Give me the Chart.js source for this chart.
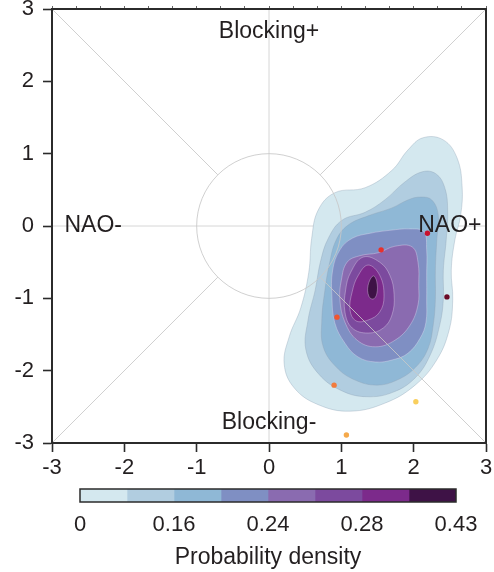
<!DOCTYPE html>
<html>
<head>
<meta charset="utf-8">
<script src="https://cdn.jsdelivr.net/npm/chart.js@4"></script>
<style>
  html, body { margin: 0; padding: 0; background: #ffffff; }
  #wrap { position: relative; width: 494px; height: 572px; }
  #main { position: absolute; left: 0; top: 0; }
  #bar { position: absolute; left: 0; top: 480px; }
</style>
</head>
<body>
<div id="wrap">
  <canvas id="main" width="494" height="480"></canvas>
  <canvas id="bar" width="494" height="92"></canvas>
</div>
<script>
// ---------- data ----------
const axisTicks = [-3, -2, -1, 0, 1, 2, 3];

// density contour outlines (x, y), from outermost (level 1) to innermost (level 8)
const contour1 = [[2.13,1.22],[2.41,1.19],[2.60,0.94],[2.67,0.54],[2.65,0.15],[2.57,-0.19],[2.52,-0.61],[2.54,-1.02],[2.49,-1.44],[2.32,-1.85],[2.02,-2.20],[1.60,-2.45],[1.12,-2.56],[0.68,-2.47],[0.35,-2.24],[0.21,-1.91],[0.28,-1.53],[0.44,-1.13],[0.55,-0.64],[0.59,-0.17],[0.68,0.22],[0.91,0.46],[1.33,0.53],[1.70,0.77],[1.92,1.05]];
const contour2 = [[2.12,0.75],[2.31,0.72],[2.43,0.53],[2.47,0.22],[2.45,-0.19],[2.41,-0.61],[2.41,-1.02],[2.36,-1.37],[2.23,-1.78],[2.02,-2.10],[1.71,-2.30],[1.35,-2.36],[1.01,-2.28],[0.69,-2.05],[0.51,-1.71],[0.54,-1.30],[0.64,-0.88],[0.71,-0.50],[0.82,-0.17],[1.01,0.08],[1.33,0.19],[1.60,0.36],[1.88,0.61]];
const contour3 = [[2.09,0.40],[2.25,0.36],[2.34,0.15],[2.32,-0.19],[2.30,-0.61],[2.30,-1.02],[2.27,-1.37],[2.20,-1.69],[2.03,-1.95],[1.77,-2.13],[1.49,-2.20],[1.19,-2.13],[0.93,-1.95],[0.75,-1.67],[0.73,-1.30],[0.77,-0.91],[0.84,-0.50],[0.93,-0.19],[1.09,0.01],[1.37,0.14],[1.70,0.25],[1.92,0.36]];
const contour4 = [[1.95,-0.04],[2.14,-0.08],[2.18,-0.33],[2.18,-0.68],[2.18,-1.02],[2.17,-1.33],[2.09,-1.55],[1.92,-1.76],[1.71,-1.85],[1.47,-1.88],[1.23,-1.81],[1.05,-1.62],[0.91,-1.34],[0.87,-0.98],[0.88,-0.61],[0.98,-0.33],[1.15,-0.17],[1.40,-0.10],[1.67,-0.06]];
const contour5 = [[1.74,-0.28],[1.98,-0.29],[2.06,-0.50],[2.07,-0.82],[2.06,-1.09],[1.95,-1.37],[1.74,-1.58],[1.47,-1.67],[1.22,-1.58],[1.05,-1.33],[0.98,-1.02],[1.00,-0.75],[1.08,-0.50],[1.26,-0.41],[1.51,-0.37]];
const contour6 = [[1.30,-0.43],[1.53,-0.50],[1.67,-0.68],[1.73,-0.95],[1.70,-1.23],[1.58,-1.41],[1.37,-1.48],[1.15,-1.41],[1.05,-1.19],[1.06,-0.88],[1.13,-0.64]];
const contour7 = [[1.37,-0.54],[1.53,-0.68],[1.59,-0.97],[1.53,-1.19],[1.37,-1.30],[1.20,-1.31],[1.12,-1.16],[1.15,-0.91],[1.23,-0.69]];
const contour8 = [[1.44,-0.69],[1.49,-0.77],[1.49,-0.94],[1.44,-1.01],[1.38,-0.97],[1.37,-0.82]];
const contours = [contour1, contour2, contour3, contour4, contour5, contour6, contour7, contour8];

// colour scale (one colour per density band)
const bandColors = ['#d4e8ef','#b1cde0','#8fb8d6','#7f8fc3','#8a6bb0','#7c4a9e','#7c2a8b','#3e1246'];
const colorbarTickLabels = ['0', '0.16', '0.24', '0.28', '0.43'];
const colorbarTitle = 'Probability density';

// individual years (scatter points)
const pointX = [2.19, 1.55, 2.46, 0.94, 0.90, 2.03, 1.07];
const pointY = [-0.10, -0.33, -0.98, -1.26, -2.20, -2.43, -2.89];
const pointColors = ['#c8102e', '#e8302c', '#6b0a27', '#f0562f', '#f27b3d', '#f9cf5d', '#f5a94a'];

// regime labels
const regimeNames = ['Blocking+', 'NAO-', 'NAO+', 'Blocking-'];
const regimeX = [0, -2.43, 2.50, 0];
const regimeY = [2.68, 0, 0, -2.72];
const refCircleRadius = 1;

// ---------- main chart ----------
const FONT = "'Liberation Sans', Arial, Helvetica, sans-serif";
const TXT = '#231f20';

const datasets = [];
datasets.push({
  type: 'scatter',
  data: pointX.map((x, i) => ({ x: x, y: pointY[i] })),
  pointBackgroundColor: pointColors,
  pointBorderWidth: 0,
  pointRadius: 2.7,
  order: 0
});
// inner contours drawn on top of outer ones
for (let k = contours.length - 1; k >= 0; k--) {
  datasets.push({
    type: 'line',
    closedContour: true,
    data: contours[k].map(p => ({ x: p[0], y: p[1] })),
    backgroundColor: bandColors[k],
    borderColor: k < 3 ? 'rgba(140,160,180,0.45)' : 'rgba(235,225,245,0.45)',
    borderWidth: 0.8,
    fill: 'shape',
    spanGaps: true,
    tension: 0.4,
    pointRadius: 0,
    order: 1 + (contours.length - 1 - k)
  });
}

// make each contour a smooth closed loop
const closeLoops = {
  id: 'closeLoops',
  afterDatasetUpdate(chart, args) {
    const ds = chart.data.datasets[args.index];
    if (ds.closedContour && args.meta.dataset) {
      args.meta.dataset._loop = true;
      args.meta.dataset._fullLoop = true;
      args.meta.dataset._pointsUpdated = false;
    }
  }
};

const noPad = s => { s.paddingTop = 0; s.paddingBottom = 0; s.paddingLeft = 0; s.paddingRight = 0; };

const refLines = {
  id: 'refLines',
  beforeDatasetsDraw(chart) {
    const { ctx, chartArea: a, scales: { x, y } } = chart;
    ctx.save();
    ctx.beginPath(); ctx.rect(a.left, a.top, a.right - a.left, a.bottom - a.top); ctx.clip();
    ctx.strokeStyle = '#d6d6d6';
    ctx.lineWidth = 1;
    ctx.beginPath();
    ctx.moveTo(x.getPixelForValue(0), a.top); ctx.lineTo(x.getPixelForValue(0), a.bottom);
    ctx.moveTo(a.left, y.getPixelForValue(0)); ctx.lineTo(a.right, y.getPixelForValue(0));
    ctx.stroke();
    ctx.restore();
  },
  beforeDatasetDraw(chart, args) {
    if (args.index !== 0) return;
    const { ctx, scales: { x, y } } = chart;
    const cx = x.getPixelForValue(0), cy = y.getPixelForValue(0);
    const r = x.getPixelForValue(refCircleRadius) - cx;
    const d = refCircleRadius / Math.SQRT2;
    ctx.save();
    ctx.strokeStyle = 'rgba(200,200,200,0.85)';
    ctx.lineWidth = 1;
    ctx.beginPath();
    ctx.arc(cx, cy, r, 0, Math.PI * 2);
    const corners = [[-3, 3], [3, 3], [3, -3], [-3, -3]];
    corners.forEach(c => {
      ctx.moveTo(x.getPixelForValue(c[0]), y.getPixelForValue(c[1]));
      ctx.lineTo(x.getPixelForValue(Math.sign(c[0]) * d), y.getPixelForValue(Math.sign(c[1]) * d));
    });
    ctx.stroke();
    ctx.restore();
  },
  afterDatasetsDraw(chart) {
    const { ctx, scales: { x, y } } = chart;
    ctx.save();
    ctx.fillStyle = TXT;
    ctx.font = '23px ' + FONT;
    ctx.textAlign = 'center';
    ctx.textBaseline = 'middle';
    regimeNames.forEach((t, i) => {
      ctx.fillText(t, x.getPixelForValue(regimeX[i]), y.getPixelForValue(regimeY[i]));
    });
    ctx.restore();
  },
  afterDraw(chart) {
    const { ctx, chartArea: a } = chart;
    ctx.save();
    ctx.strokeStyle = '#2b2b2b';
    ctx.lineWidth = 2;
    ctx.strokeRect(a.left, a.top, a.right - a.left, a.bottom - a.top);
    ctx.restore();
  }
};

new Chart(document.getElementById('main'), {
  type: 'scatter',
  data: { datasets: datasets },
  options: {
    responsive: false,
    animation: false,
    events: [],
    layout: { padding: 0 },
    plugins: { legend: { display: false }, tooltip: { enabled: false } },
    scales: {
      x: {
        type: 'linear', position: 'bottom', min: -3, max: 3,
        afterBuildTicks: s => { s.ticks = axisTicks.map(v => ({ value: v })); },
        afterFit: s => { s.height = 37; noPad(s); },
        ticks: { color: TXT, font: { size: 22, family: FONT }, padding: 3, maxRotation: 0 },
        grid: { drawOnChartArea: false, tickLength: 9, tickColor: '#2b2b2b', tickWidth: 1.6 },
        border: { display: true, color: '#2b2b2b', width: 2 }
      },
      x2: {
        type: 'linear', position: 'top', min: -3, max: 3,
        afterBuildTicks: s => { const t = []; for (let i = -9; i <= 9; i++) t.push({ value: i / 3 }); s.ticks = t; },
        afterFit: s => { s.height = 9; noPad(s); },
        ticks: { display: false },
        grid: { drawOnChartArea: false, tickLength: 3, tickColor: '#666', tickWidth: 1 },
        border: { display: true, color: '#2b2b2b', width: 2 }
      },
      y: {
        type: 'linear', position: 'left', min: -3, max: 3,
        afterBuildTicks: s => { s.ticks = axisTicks.map(v => ({ value: v })); },
        afterFit: s => { s.width = 52; noPad(s); },
        ticks: { color: TXT, font: { size: 22, family: FONT }, padding: 9 },
        grid: { drawOnChartArea: false, tickLength: 9, tickColor: '#2b2b2b', tickWidth: 1.6 },
        border: { display: true, color: '#2b2b2b', width: 2 }
      },
      y2: {
        type: 'linear', position: 'right', min: -3, max: 3,
        afterFit: s => { s.width = 8; noPad(s); },
        ticks: { display: false },
        grid: { display: false },
        border: { display: true, color: '#2b2b2b', width: 2 }
      }
    }
  },
  plugins: [closeLoops, refLines]
});

// ---------- colour bar ----------
const barBorder = {
  id: 'barBorder',
  afterDraw(chart) {
    const { ctx, chartArea: a } = chart;
    ctx.save();
    ctx.strokeStyle = '#2b2b2b';
    ctx.lineWidth = 1.5;
    ctx.strokeRect(a.left, a.top, a.right - a.left, a.bottom - a.top);
    ctx.restore();
  }
};

new Chart(document.getElementById('bar'), {
  type: 'bar',
  data: {
    labels: [''],
    datasets: bandColors.map(c => ({ data: [1], backgroundColor: c, borderWidth: 0, barPercentage: 1, categoryPercentage: 1 }))
  },
  options: {
    indexAxis: 'y',
    responsive: false,
    animation: false,
    events: [],
    layout: { padding: { left: 80, right: 38, top: 9, bottom: 0 } },
    plugins: { legend: { display: false }, tooltip: { enabled: false } },
    scales: {
      x: {
        stacked: true, min: 0, max: bandColors.length,
        afterBuildTicks: s => { s.ticks = colorbarTickLabels.map((t, i) => ({ value: i * 2 })); },
        afterFit: s => { s.height = 70; noPad(s); },
        ticks: { color: TXT, font: { size: 22, family: FONT }, padding: 2, maxRotation: 0,
                 callback: (v) => colorbarTickLabels[v / 2] },
        grid: { display: false },
        border: { display: false },
        title: { display: true, text: colorbarTitle, color: TXT, font: { size: 23, family: FONT }, padding: { top: 4, bottom: 1 } }
      },
      y: { stacked: true, display: false }
    }
  },
  plugins: [barBorder]
});
</script>
</body>
</html>
